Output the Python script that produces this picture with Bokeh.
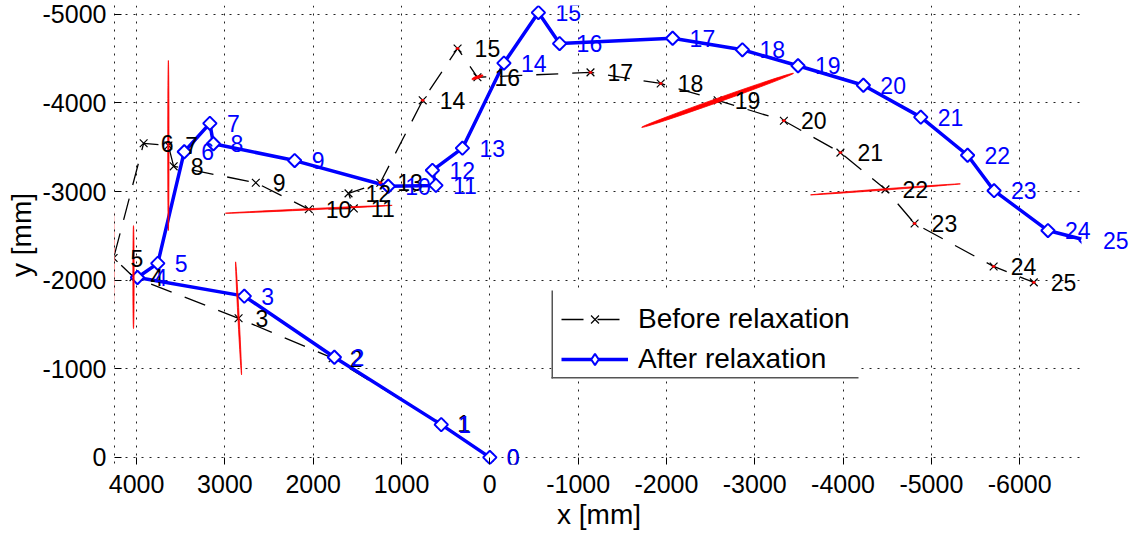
import math
from bokeh.plotting import figure
from bokeh.models import (ColumnDataSource, Range1d, Label, Legend, LegendItem,
                          BoxAnnotation, Title)
from bokeh.embed import file_html
from bokeh.resources import INLINE

# ---------------- data ----------------
point_labels = ["0", "1", "2", "3", "4", "5", "6", "7", "8", "9", "10", "11", "12",
                "13", "14", "15", "16", "17", "18", "19", "20", "21", "22", "23", "24", "25"]

before_x = [0, 560, 1780, 2845, 4035, 4260, 3920, 3640, 3580, 2650, 2050, 1540, 1600,
            1240, 760, 365, 140, -1140, -1935, -2580, -3330, -3970, -4480, -4810, -5705, -6160]
before_y = [0, -380, -1120, -1570, -2035, -2250, -3545, -3520, -3285, -3100, -2800, -2810, -2980,
            -3100, -4030, -4615, -4290, -4345, -4220, -4030, -3800, -3440, -3025, -2640, -2155, -1975]

after_x = [0, 550, 1760, 2780, 3990, 3760, 3460, 3170, 3130, 2210, 1150, 610, 650,
           310, -160, -550, -790, -2070, -2860, -3490, -4230, -4880, -5410, -5710, -6320, -6750]
after_y = [0, -370, -1130, -1820, -2030, -2190, -3450, -3770, -3540, -3350, -3060, -3070, -3240,
           -3490, -4450, -5020, -4670, -4730, -4600, -4420, -4200, -3840, -3410, -3010, -2560, -2450]

# uncertainty ellipses (centred on "before" points)
ell_index = [3, 4, 5, 7, 10, 16, 19, 22, 13, 14, 15, 17, 18, 20, 21, 23, 24, 25]
ell_major = [1280, 1165, 1055, 1925, 1890, 135, 1825, 1700, 35, 35, 35, 35, 35, 35, 35, 35, 35, 35]
ell_minor = [14, 14, 14, 14, 14, 30, 45, 14, 22, 22, 22, 22, 22, 22, 22, 22, 22, 22]
ell_angle_deg = [93, 90, 90, 90, 2.7, 20, 19.6, 4.2, 0, 0, 0, 0, 0, 0, 0, 0, 0, 0]

x_ticks = [4000, 3000, 2000, 1000, 0, -1000, -2000, -3000, -4000, -5000, -6000]
y_ticks = [0, -1000, -2000, -3000, -4000, -5000]
x_limits = [4250, -6700]      # axis limits (right of -6700 is outside the axes)
y_limits = [80, -5100]

series_names = ["Before relaxation", "After relaxation"]
x_label = "x [mm]"
y_label = "y [mm]"

FONT = "Liberation Sans"
BLUE = "#0000ff"

# layout geometry (pixels)
W, H = 1135, 538
LEFT, TOP, BOTTOM = 114, 5, 74
AXES_W = 967                                  # width of the real axes box
frame_w = W - LEFT
x_view_end = x_limits[0] - (x_limits[0] - x_limits[1]) * frame_w / AXES_W
XLABEL_W = 82                                 # approx. rendered width of the x label

# ---------------- figure ----------------
p = figure(width=W, height=H, output_backend="svg", toolbar_location=None,
           x_range=Range1d(x_limits[0], x_view_end), y_range=Range1d(*y_limits),
           min_border_left=LEFT, min_border_right=0, min_border_top=TOP,
           min_border_bottom=BOTTOM)
p.outline_line_color = None
p.background_fill_color = "white"
p.border_fill_color = "white"

p.xaxis.ticker = x_ticks
p.yaxis.ticker = y_ticks
p.xaxis.major_label_overrides = {v: str(v) for v in x_ticks}
p.yaxis.major_label_overrides = {v: str(v) for v in y_ticks}

for ax in (p.xaxis, p.yaxis):
    ax.major_label_text_font = FONT
    ax.major_label_text_font_size = "25px"
    ax.major_label_text_color = "black"
    ax.axis_label_text_font = FONT
    ax.axis_label_text_font_size = "28px"
    ax.axis_label_text_font_style = "normal"
    ax.axis_label_text_color = "black"
    ax.major_tick_in = 7
    ax.major_tick_out = 0
    ax.major_tick_line_color = "black"
    ax.minor_tick_line_color = None

p.yaxis.axis_label = y_label
p.xaxis.axis_line_color = None
p.yaxis.axis_line_color = "#222222"
p.yaxis.axis_line_dash = "2 6"
p.xaxis.major_label_standoff = 10
p.yaxis.major_label_standoff = 8
p.yaxis.axis_label_standoff = 3

# x label centred on the real axes box (not on the extended frame)
x_title = Title(text=x_label, align="left", offset=AXES_W / 2 - XLABEL_W / 2,
                text_font=FONT, text_font_size="28px", text_font_style="normal",
                text_color="black", standoff=2)
p.add_layout(x_title, "below")

p.grid.grid_line_color = "#222222"
p.grid.grid_line_dash = "2 6"
p.grid.grid_line_width = 1

# ---------------- glyphs ----------------
src_b = ColumnDataSource(dict(x=before_x, y=before_y))
src_a = ColumnDataSource(dict(x=after_x, y=after_y))

r_b_line = p.line("x", "y", source=src_b, line_color="black", line_width=1.3, line_dash="22 14")
r_b_mk = p.scatter("x", "y", source=src_b, marker="x", size=11, line_color="black", line_width=1.2)

r_a_line = p.line("x", "y", source=src_a, line_color=BLUE, line_width=3.5)
r_a_mk = p.scatter("x", "y", source=src_a, marker="square", angle=math.pi / 4, size=9.5,
                   line_color=BLUE, line_width=2, fill_color="white")
# legend-only diamond swatch (NaN point: draws nothing in the plot)
r_a_key = p.scatter(x=[float("nan")], y=[float("nan")], marker="diamond", size=17,
                    line_color=BLUE, line_width=2, fill_color="white")

ell_src = ColumnDataSource(dict(
    x=[before_x[i] for i in ell_index],
    y=[before_y[i] for i in ell_index],
    w=ell_major, h=ell_minor, a=ell_angle_deg))
p.ellipse("x", "y", width="w", height="h", angle="a", angle_units="deg", source=ell_src,
          fill_color="red", line_color="red", line_width=1, line_alpha=0.8)

# everything right of the axes limit is clipped (white mask over glyphs and grid)
p.add_layout(BoxAnnotation(left=x_limits[1], fill_color="white", fill_alpha=1, line_alpha=0))

for xs, ys, col in ((before_x, before_y, "black"), (after_x, after_y, BLUE)):
    for xv, yv, t in zip(xs, ys, point_labels):
        p.add_layout(Label(x=xv, y=yv, text=t, x_offset=17, y_offset=0,
                           text_baseline="middle", text_align="left", text_font=FONT,
                           text_font_size="23px", text_color=col))

# legend box (white panel with dark left / bottom edges)
box_kw = dict(left_units="screen", right_units="screen", top_units="screen",
              bottom_units="screen", line_alpha=0)
p.add_layout(BoxAnnotation(left=437, right=744, bottom=87, top=174,
                           fill_color="white", fill_alpha=1, **box_kw))
p.add_layout(BoxAnnotation(left=437, right=438.5, bottom=86, top=174,
                           fill_color="#555555", fill_alpha=1, **box_kw))
p.add_layout(BoxAnnotation(left=437, right=744, bottom=86, top=87.5,
                           fill_color="#555555", fill_alpha=1, **box_kw))

legend = Legend(items=[LegendItem(label=series_names[0], renderers=[r_b_line, r_b_mk]),
                       LegendItem(label=series_names[1], renderers=[r_a_line, r_a_key])],
                location=(447, 89), padding=10, spacing=8, margin=0,
                glyph_width=67, glyph_height=28, label_height=28, label_standoff=10,
                label_text_font=FONT, label_text_font_size="28px", label_text_color="black",
                background_fill_alpha=0, border_line_color=None)
p.add_layout(legend, "center")

open("out.html", "w").write(file_html(p, INLINE))
